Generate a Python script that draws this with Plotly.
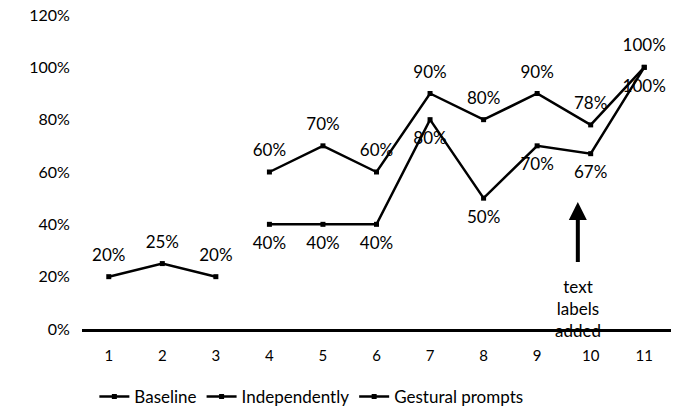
import plotly.graph_objects as go

sessions = [1, 2, 3, 4, 5, 6, 7, 8, 9, 10, 11]
baseline_x = [1, 2, 3]
baseline_y = [0.20, 0.25, 0.20]
indep_x = [4, 5, 6, 7, 8, 9, 10, 11]
indep_y = [0.60, 0.70, 0.60, 0.90, 0.80, 0.90, 0.78, 1.00]
gest_x = [4, 5, 6, 7, 8, 9, 10, 11]
gest_y = [0.40, 0.40, 0.40, 0.80, 0.50, 0.70, 0.67, 1.00]
y_ticks = [0, 0.2, 0.4, 0.6, 0.8, 1.0, 1.2]
y_tick_labels = ["0%", "20%", "40%", "60%", "80%", "100%", "120%"]

FONT = "Lato"
line = dict(color="black", width=2.5)
marker = dict(symbol="square", size=5, color="black")
tfont = dict(family=FONT, size=17, color="black")

fig = go.Figure()
series = [
    ("Baseline", baseline_x, baseline_y, "top center"),
    ("Independently", indep_x, indep_y, "top center"),
    ("Gestural prompts", gest_x, gest_y, "bottom center"),
]
for name, xs, ys, pos in series:
    fig.add_trace(go.Scatter(x=xs, y=ys, name=name, mode="lines+markers",
                             line=line, marker=marker))
for name, xs, ys, pos in series:
    fig.add_trace(go.Scatter(x=xs, y=ys, mode="markers+text", showlegend=False, hoverinfo="skip",
                             marker=dict(size=17, opacity=0, color="black"),
                             texttemplate="%{y:.0%}", textposition=pos, textfont=tfont,
                             cliponaxis=False))

# arrow
fig.add_annotation(x=9.76, y=0.485, ax=9.76, ay=0.25, xref="x", yref="y", axref="x", ayref="y",
                   text="", showarrow=True, arrowhead=2, arrowsize=0.9, arrowwidth=4, arrowcolor="black")
fig.add_annotation(x=9.76, y=0.21, xref="x", yref="y", text="text<br>labels<br>added",
                   showarrow=False, yanchor="top", font=dict(family=FONT, size=17, color="black"),
                   align="center")

fig.update_layout(
    width=681, height=414,
    margin=dict(l=82, r=10, t=15, b=85, autoexpand=False),
    plot_bgcolor="white", paper_bgcolor="white",
    font=dict(family=FONT, size=16, color="black"),
    showlegend=True,
    legend=dict(orientation="h", x=0.021, xanchor="left", yref="container", y=17 / 414,
                yanchor="middle", font=dict(family=FONT, size=17, color="black")),
)
fig.update_xaxes(range=[0.5, 11.5], tickvals=sessions, ticktext=[str(s) for s in sessions],
                 showgrid=False, zeroline=False, showline=True, linecolor="black", linewidth=2.5,
                 ticks="outside", ticklen=11, tickcolor="rgba(0,0,0,0)", automargin=False,
                 tickfont=dict(family=FONT, size=15))
fig.update_yaxes(range=[0, 1.2], tickvals=y_ticks, ticktext=y_tick_labels, showgrid=False,
                 zeroline=False, showline=False, ticks="outside", ticklen=8,
                 tickcolor="rgba(0,0,0,0)", automargin=False, ticklabeloverflow="allow",
                 tickfont=dict(family=FONT, size=16))

fig.write_html("out.html", config={"displayModeBar": False},
               post_script="document.body.style.margin='0';document.body.style.padding='0';")
